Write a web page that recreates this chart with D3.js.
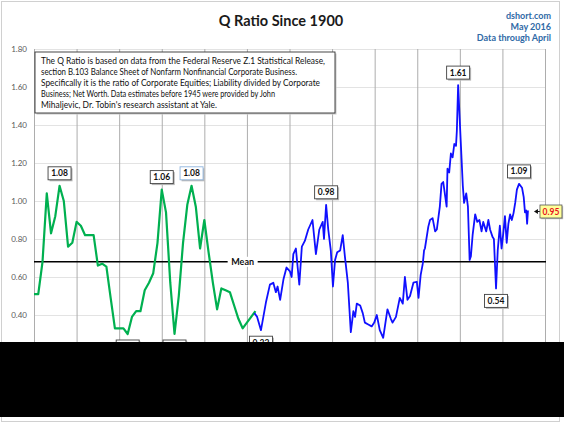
<!DOCTYPE html>
<html>
<head>
<meta charset="utf-8">
<script src="https://cdn.jsdelivr.net/npm/d3@7"></script>
<style>
  html, body { margin: 0; padding: 0; background: #fff; }
  svg { display: block; }
  text { font-family: Lato, "Open Sans", sans-serif; }
</style>
</head>
<body>
<script>
// Annual estimates (green), 1900 onward
const greenStart = 1900;
const greenValues = [0.51, 0.51, 0.68, 1.04, 0.83, 0.92, 1.08, 1.00, 0.76, 0.78,
  0.89, 0.87, 0.82, 0.82, 0.82, 0.66, 0.67, 0.655, 0.49, 0.33,
  0.33, 0.33, 0.30, 0.39, 0.42, 0.42, 0.53, 0.57, 0.62, 0.78,
  1.06, 0.94, 0.57, 0.30, 0.50, 0.78, 0.98, 1.08, 0.97, 0.75,
  0.90, 0.73, 0.57, 0.43, 0.54, 0.53, 0.52, 0.45, 0.38, 0.33,
  0.36, 0.39, 0.42];

// Z.1 quarterly series (blue), dates as decimal years
const blueDates = [1951.75, 1952.4, 1953.3, 1954.5, 1955.4, 1956.2, 1956.8, 1957.2, 1957.8, 1958.6,
  1959.3, 1960.1, 1960.5, 1960.9, 1961.5, 1962.3, 1962.9, 1963.6, 1964.4, 1965.4,
  1966.2, 1967.0, 1967.8, 1968.1, 1968.6, 1969.1, 1969.7, 1970.2, 1970.7, 1971.2,
  1971.9, 1972.5, 1973.0, 1973.7, 1974.4, 1975.0, 1975.4, 1975.8, 1976.6, 1977.2,
  1977.7, 1978.5, 1979.3, 1979.9, 1980.5, 1981.2, 1982.0, 1983.0, 1983.8, 1984.2,
  1985.0, 1985.9, 1986.6, 1987.1, 1987.7, 1988.3, 1989.1, 1989.9, 1990.3, 1990.8,
  1991.3, 1991.6, 1991.8, 1992.6, 1993.0, 1993.6, 1994.2, 1994.6, 1995.3, 1995.7,
  1996.1, 1996.9, 1997.1, 1997.5, 1997.9, 1998.3, 1998.7, 1999.1, 1999.3, 1999.6,
  2000.2, 2000.7, 2001.0, 2001.5, 2001.9, 2002.3, 2002.6, 2003.0, 2003.6, 2004.1,
  2004.6, 2005.1, 2005.5, 2006.2, 2006.7, 2007.1, 2007.7, 2008.0, 2008.5, 2008.9,
  2009.4, 2009.8, 2010.2, 2010.6, 2011.0, 2011.4, 2011.8, 2012.2, 2012.6, 2013.0,
  2013.4, 2013.9, 2014.6, 2015.0, 2015.3, 2015.6, 2015.8, 2016.0];
const blueValues = [0.41, 0.39, 0.32, 0.47, 0.56, 0.57, 0.52, 0.55, 0.48, 0.59,
  0.65, 0.63, 0.60, 0.72, 0.75, 0.56, 0.76, 0.79, 0.85, 0.90,
  0.72, 0.85, 0.89, 0.80, 0.98, 0.85, 0.74, 0.55, 0.69, 0.73,
  0.74, 0.82, 0.71, 0.57, 0.31, 0.42, 0.39, 0.46, 0.45, 0.41,
  0.36, 0.35, 0.34, 0.36, 0.40, 0.32, 0.28, 0.43, 0.38, 0.36,
  0.39, 0.49, 0.46, 0.60, 0.48, 0.50, 0.57, 0.575, 0.49, 0.61,
  0.67, 0.74, 0.75, 0.865, 0.90, 0.91, 0.84, 0.85, 0.97, 1.09,
  1.10, 0.97, 1.17, 1.15, 1.25, 1.23, 1.30, 1.29, 1.37, 1.61,
  1.32, 1.08, 0.99, 1.04, 0.97, 0.69, 0.71, 0.82, 0.93, 0.89,
  0.90, 0.84, 0.89, 0.84, 0.90, 0.85, 0.81, 0.80, 0.54, 0.74,
  0.87, 0.75, 0.83, 0.92, 0.78, 0.88, 0.93, 0.90, 0.935, 0.99,
  1.06, 1.09, 1.07, 1.02, 0.94, 0.95, 0.88, 0.95];

const meanValue = 0.68;
const yTicks = [0, 0.2, 0.4, 0.6, 0.8, 1.0, 1.2, 1.4, 1.6, 1.8];
const xTicks = d3.range(1900, 2021, 10);

// Callout labels
const calloutYears = [1906, 1930, 1937, 1968.6, 1999.6, 2013.9, 2008.5, 1922, 1933, 1953.3];
const calloutValues = [1.08, 1.06, 1.08, 0.98, 1.61, 1.09, 0.54, 0.30, 0.30, 0.32];
const calloutTexts = ['1.08', '1.06', '1.08', '0.98', '1.61', '1.09', '0.54', '0.30', '0.30', '0.32'];
const calloutBelow = [false, false, false, false, false, false, true, true, true, true];

const noteLines = [
  'The Q Ratio is based on data from the Federal Reserve Z.1 Statistical Release,',
  'section B.103  Balance Sheet of Nonfarm Nonfinancial Corporate Business.',
  'Specifically it is the ratio  of Corporate Equities; Liability divided by Corporate',
  'Business; Net Worth.  Data estimates before 1945 were provided by John',
  'Mihaljevic, Dr. Tobin\'s research assistant at Yale.'
];
const noteWidths = [284, 256, 279, 234, 176];
const sourceLines = ['dshort.com', 'May 2016', 'Data through April'];

const W = 564, H = 432;
const plot = { left: 34, right: 545, top: 49, bottom: 391 };

const svg = d3.select('body').append('svg')
    .attr('width', W)
    .attr('height', H);

svg.append('rect').attr('width', W).attr('height', H).attr('fill', '#fff');

// outer chart border
svg.append('rect')
    .attr('x', 1.5).attr('y', 1.5)
    .attr('width', 558).attr('height', 420)
    .attr('fill', 'none')
    .attr('stroke', '#d0d0d0');

const x = d3.scaleLinear().domain([1900, 2020]).range([plot.left, plot.right]);
const y = d3.scaleLinear().domain([0, 1.8]).range([plot.bottom, plot.top]);

// horizontal gridlines + y labels
const yAxis = svg.append('g')
    .attr('transform', `translate(${plot.left},0)`)
    .call(d3.axisLeft(y).tickValues(yTicks).tickFormat(d3.format('.2f'))
        .tickSize(-(plot.right - plot.left)).tickPadding(7));
yAxis.select('.domain').remove();
yAxis.selectAll('line').attr('stroke', '#e3e3e3');
yAxis.selectAll('text').attr('fill', '#595959').attr('font-size', '8px')
    .attr('font-family', 'Lato, sans-serif');

// vertical gridlines
const xAxis = svg.append('g')
    .attr('transform', `translate(0,${plot.bottom})`)
    .call(d3.axisBottom(x).tickValues(xTicks).tickFormat(d3.format('d'))
        .tickSize(-(plot.bottom - plot.top)));
xAxis.select('.domain').remove();
xAxis.selectAll('line').attr('stroke', '#adadad');
xAxis.selectAll('text').attr('fill', '#595959').attr('font-size', '8px');

// mean line
svg.append('line')
    .attr('x1', plot.left).attr('x2', plot.right + 1)
    .attr('y1', y(meanValue)).attr('y2', y(meanValue))
    .attr('stroke', '#000').attr('stroke-width', 1.5);
const meanX = x(1949);
svg.append('rect')
    .attr('x', meanX - 15).attr('y', y(meanValue) - 5)
    .attr('width', 30).attr('height', 10)
    .attr('fill', '#fff');
svg.append('text')
    .attr('x', meanX).attr('y', y(meanValue) + 3)
    .attr('text-anchor', 'middle')
    .attr('font-size', '9px').attr('font-weight', 700)
    .attr('fill', '#111')
    .text('Mean');

const line = d3.line().x(d => x(d[0])).y(d => y(d[1]));

const greenData = greenValues.map((v, i) => [greenStart + i, v]);
svg.append('path')
    .datum(greenData)
    .attr('d', line)
    .attr('fill', 'none')
    .attr('stroke', '#00b050')
    .attr('stroke-width', 2.2)
    .attr('stroke-linejoin', 'round');

const blueData = blueDates.map((d, i) => [d, blueValues[i]]);
svg.append('path')
    .datum(blueData)
    .attr('d', line)
    .attr('fill', 'none')
    .attr('stroke', '#1010ff')
    .attr('stroke-width', 1.8)
    .attr('stroke-linejoin', 'round');

// callout boxes
const boxW = 23, boxH = 13;
calloutYears.forEach((yr, i) => {
    const cx = x(yr);
    const top = calloutBelow[i] ? y(calloutValues[i]) + 6 : y(calloutValues[i]) - 6 - boxH;
    const g = svg.append('g').attr('transform', `translate(${cx - boxW / 2},${top})`);
    g.append('rect')
        .attr('x', 1.5).attr('y', 1.5)
        .attr('width', boxW).attr('height', boxH)
        .attr('fill', '#b8b8b8');
    g.append('rect')
        .attr('width', boxW).attr('height', boxH)
        .attr('fill', '#fff')
        .attr('stroke', i === 2 ? '#8fb4de' : '#404040')
        .attr('stroke-width', 0.9);
    g.append('text')
        .attr('x', boxW / 2).attr('y', 9.5)
        .attr('text-anchor', 'middle')
        .attr('font-size', '8.5px').attr('font-weight', 700)
        .attr('fill', '#111')
        .text(calloutTexts[i]);
});

// latest value marker
const lastDate = blueDates[blueDates.length - 1];
const lastValue = blueValues[blueValues.length - 1];
const ly = y(lastValue) + 1;
svg.append('path')
    .attr('d', `M${x(lastDate) + 6},${ly} l4,-2.5 v5 z`)
    .attr('fill', '#111');
svg.append('line')
    .attr('x1', x(lastDate) + 9).attr('x2', x(lastDate) + 12)
    .attr('y1', ly).attr('y2', ly)
    .attr('stroke', '#111');
const lg = svg.append('g').attr('transform', `translate(${x(lastDate) + 12},${ly - 6.5})`);
lg.append('rect').attr('x', 1.2).attr('y', 1.2).attr('width', 22).attr('height', 13).attr('fill', '#bbb');
lg.append('rect').attr('width', 22).attr('height', 13)
    .attr('fill', '#ffff99').attr('stroke', '#555').attr('stroke-width', 0.8);
lg.append('text')
    .attr('x', 11).attr('y', 9.5)
    .attr('text-anchor', 'middle')
    .attr('font-size', '8.5px').attr('font-weight', 700)
    .attr('fill', '#e8111b')
    .text(lastValue.toFixed(2));

// note box
const note = svg.append('g').attr('transform', 'translate(35,52)');
note.append('rect')
    .attr('x', 1.5).attr('y', 1.5)
    .attr('width', 300).attr('height', 61)
    .attr('fill', '#c8c8c8');
note.append('rect')
    .attr('width', 300).attr('height', 61)
    .attr('fill', '#fff')
    .attr('stroke', '#333').attr('stroke-width', 0.9);
noteLines.forEach((t, i) => {
    note.append('text')
        .attr('x', 6).attr('y', 11.5 + i * 11)
        .attr('font-size', '9.3px')
        .attr('fill', '#111')
        .attr('textLength', noteWidths[i])
        .attr('lengthAdjust', 'spacingAndGlyphs')
        .text(t);
});

// title
svg.append('text')
    .attr('x', 281).attr('y', 26)
    .attr('text-anchor', 'middle')
    .attr('font-size', '14.5px').attr('font-weight', 700)
    .attr('fill', '#1a1a1a')
    .text('Q Ratio Since 1900');

sourceLines.forEach((t, i) => {
    svg.append('text')
        .attr('x', 551).attr('y', 19 + i * 11)
        .attr('text-anchor', 'end')
        .attr('font-size', '9px').attr('font-weight', 700)
        .attr('fill', '#2f6aa6')
        .text(t);
});

// black band over the bottom of the capture
svg.append('rect')
    .attr('x', 0).attr('y', 342)
    .attr('width', W).attr('height', 75)
    .attr('fill', '#000');
</script>
</body>
</html>
